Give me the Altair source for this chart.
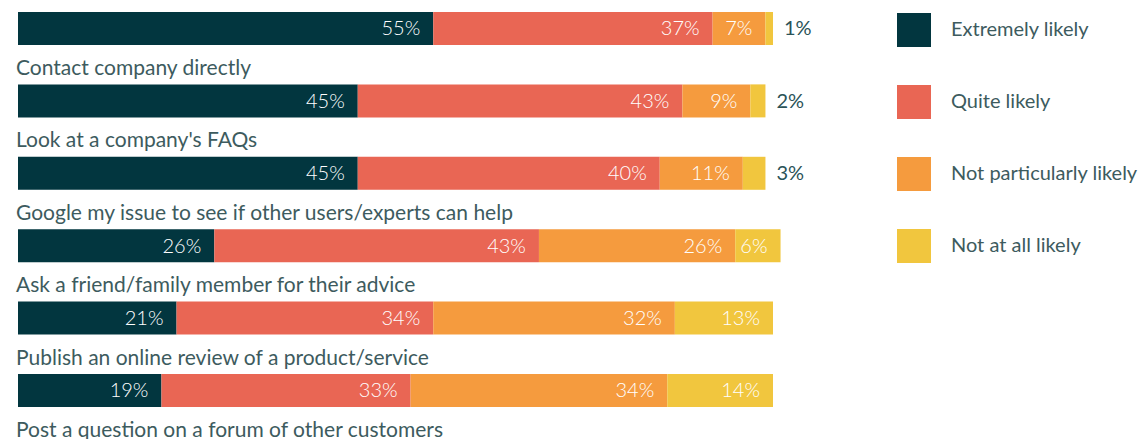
import altair as alt
import pandas as pd

# Categories (label shown under each bar) and response levels
labels = [
    "Contact company directly",
    "Look at a company's FAQs",
    "Google my issue to see if other users/experts can help",
    "Ask a friend/family member for their advice",
    "Publish an online review of a product/service",
    "Post a question on a forum of other customers",
]
levels = ["Extremely likely", "Quite likely", "Not particularly likely", "Not at all likely"]
colors = ["#02363f", "#e96654", "#f59b3e", "#f1c63e"]

extremely = [55, 45, 45, 26, 21, 19]
quite = [37, 43, 40, 43, 34, 33]
not_particularly = [7, 9, 11, 26, 32, 34]
not_at_all = [1, 2, 3, 6, 13, 14]

series = [extremely, quite, not_particularly, not_at_all]
rows = []
for r in range(len(labels)):
    for k, lev in enumerate(levels):
        rows.append({"row": r, "level": lev, "order": k, "value": series[k][r],
                     "txt": f"{series[k][r]}%"})
df = pd.DataFrame(rows)
lab_df = pd.DataFrame({"row": list(range(len(labels))), "label": labels})

FONT = "Lato"
yscale = alt.Scale(domain=[-0.283, 5.67], reverse=True, nice=False, zero=False, padding=0)
xscale = alt.Scale(domain=[0, 100], nice=False, padding=0)

base = alt.Chart(df).transform_stack(
    stack="value", as_=["x0", "x1"], groupby=["row"],
    sort=[alt.SortField("order", order="ascending")]
)

bars = base.mark_bar(height=33, orient="horizontal").encode(
    x=alt.X("x0:Q", scale=xscale, axis=None),
    x2="x1:Q",
    y=alt.Y("row:Q", scale=yscale, axis=None),
    color=alt.Color("level:N", scale=alt.Scale(domain=levels, range=colors),
                    legend=alt.Legend(title=None, orient="none", legendX=879, legendY=5,
                                      symbolType="square", symbolSize=1156,
                                      symbolStrokeWidth=0, symbolOpacity=1,
                                      labelFontSize=20, labelFont=FONT,
                                      labelColor="#3d5b5e", labelOffset=20,
                                      rowPadding=38, labelLimit=300)),
    order=alt.Order("order:Q"),
)

inside = base.transform_filter(alt.datum.value >= 5).mark_text(
    align="right", baseline="middle", dx=-13, dy=1, fontSize=20, font=FONT,
    fontWeight=300, color="white"
).encode(x=alt.X("x1:Q", scale=xscale), y=alt.Y("row:Q", scale=yscale), text="txt:N")

outside = base.transform_filter(alt.datum.value < 5).mark_text(
    align="left", baseline="middle", dx=11, dy=1, fontSize=20, font=FONT,
    color="#2b5358"
).encode(x=alt.X("x1:Q", scale=xscale), y=alt.Y("row:Q", scale=yscale), text="txt:N")

cat = alt.Chart(lab_df).mark_text(
    align="left", baseline="alphabetic", dx=-2, dy=46.5, fontSize=21, font=FONT,
    color="#3d5b5e"
).encode(x=alt.datum(0, scale=xscale), y=alt.Y("row:Q", scale=yscale), text="label:N")

chart = alt.layer(bars, inside, outside, cat).properties(
    width=755, height=431,
    autosize=alt.AutoSizeParams(type="none"),
    padding={"left": 10, "top": 0, "right": 366, "bottom": 0},
).configure(background="white").configure_view(stroke=None)

chart.save("out.html", embed_options={"renderer": "svg", "actions": False})
